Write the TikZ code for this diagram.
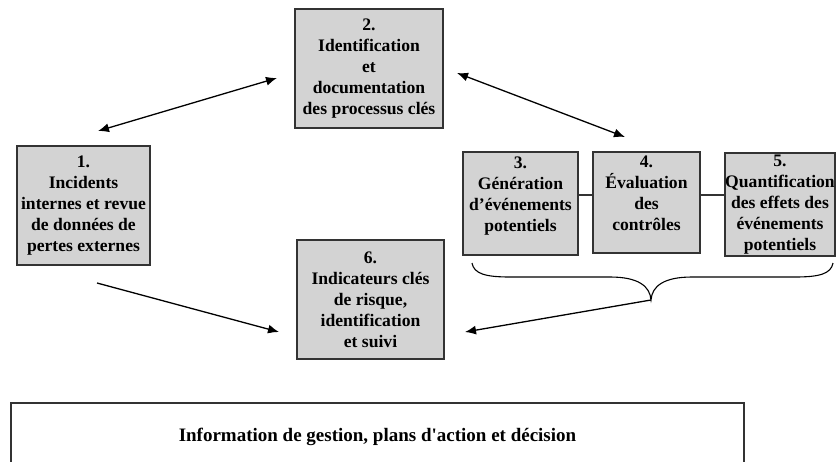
\documentclass[tikz,border=0pt]{standalone}
\usepackage{fontspec}
\setmainfont{Liberation Serif}
\newfontfamily\bottomfont{Liberation Serif}[Ligatures=ResetAll]
\usetikzlibrary{arrows.meta}
\definecolor{boxfill}{HTML}{D3D3D3}
\definecolor{boxline}{HTML}{333333}
\begin{document}
\begin{tikzpicture}[x=1pt,y=-1pt,
  stepbox/.style={draw=boxline, fill=boxfill, line width=1.2pt, align=center,
    inner sep=0pt, font=\fontsize{17.6}{21}\selectfont\bfseries},
  infobox/.style={draw=boxline, fill=white, line width=1.2pt, align=center,
    inner sep=0pt, font=\bottomfont\fontsize{19}{21}\selectfont\bfseries},
  conn/.style={draw=boxline, line width=1.2pt},
  arr/.style={line width=1.3pt, -{Latex[length=11pt,width=9pt]}},
  darr/.style={line width=1.3pt, {Latex[length=11pt,width=9pt]}-{Latex[length=11pt,width=9pt]}}]
\useasboundingbox (0,0) rectangle (836,461);

\node[stepbox, minimum width=148pt, minimum height=119pt] (b2) at (369,68.5)
  {2.\\Identification\\et\\documentation\\des processus clés};
\node[stepbox, minimum width=133pt, minimum height=119pt] (b1) at (83.5,205.5)
  {1.\\Incidents\\internes et revue\\de données de\\pertes externes};
\node[stepbox, minimum width=115pt, minimum height=103pt] (b3) at (520.5,203.5)
  {3.\\Génération\\d'événements\\potentiels\\[-3pt]\mbox{}};
\node[stepbox, minimum width=107pt, minimum height=101pt] (b4) at (646.5,202.5)
  {4.\\Évaluation\\des\\contrôles\\[-3pt]\mbox{}};
\node[stepbox, minimum width=110pt, minimum height=103pt] (b5) at (780,204.5)
  {5.\\Quantification\\des effets des\\événements\\potentiels};
\node[stepbox, minimum width=147pt, minimum height=119pt] (b6) at (370.5,299.5)
  {6.\\Indicateurs clés\\de risque,\\identification\\et suivi};
\node[infobox, minimum width=733pt, minimum height=68pt] (b7) at (377.5,437)
  {Information de gestion, plans d'action et décision};

\draw[conn] (b3.east |- 0,195) -- (b4.west |- 0,195);
\draw[conn] (b4.east |- 0,195) -- (b5.west |- 0,195);

% brace
\coordinate (bt) at (651,300);
\draw[line width=1.1pt] (472,263) .. controls (474,274) and (486,277) .. (510,277)
  -- (610,277) .. controls (638,277) and (650,286) .. (bt)
  .. controls (652,286) and (664,277) .. (692,277)
  -- (795,277) .. controls (819,277) and (831,274) .. (833,263);

\coordinate (a1s) at (98,131);
\coordinate (a1e) at (277,78);
\coordinate (a2s) at (457,73);
\coordinate (a2e) at (625,137);
\coordinate (a3s) at (97,283);
\coordinate (a3e) at (279,332);
\coordinate (a4e) at (465,332);

\draw[darr] (a1s) -- (a1e);
\draw[darr] (a2s) -- (a2e);
\draw[arr] (a3s) -- (a3e);
\draw[arr] (bt) -- (a4e);
\end{tikzpicture}
\end{document}
